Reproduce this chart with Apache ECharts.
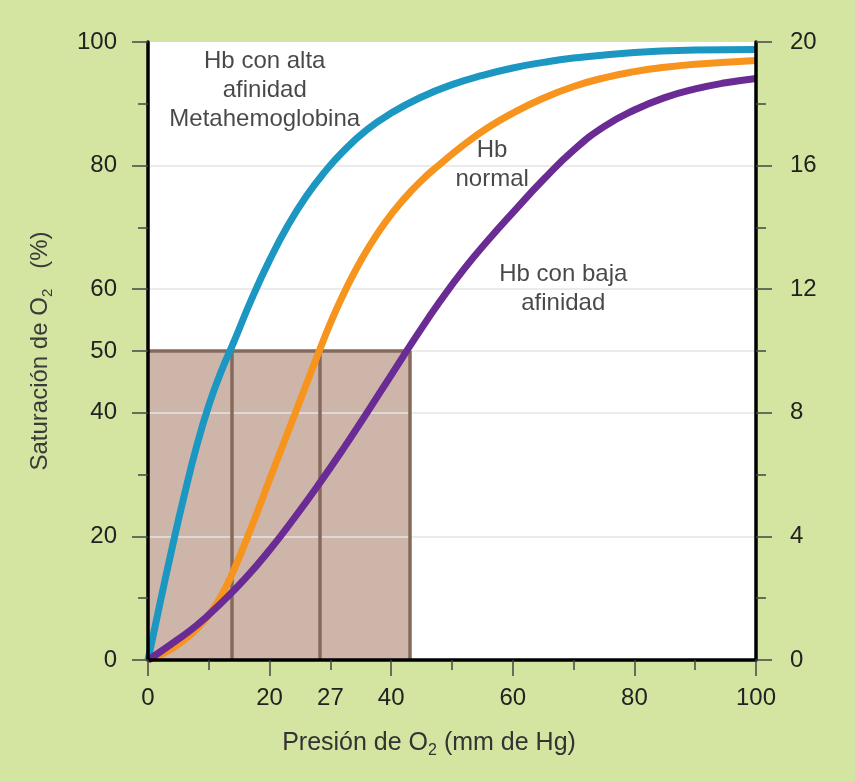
<!DOCTYPE html>
<html>
<head>
<meta charset="utf-8">
<script src="https://cdn.jsdelivr.net/npm/echarts@6/dist/echarts.min.js"></script>
<style>
  html, body { margin: 0; padding: 0; background: #d4e5a1; }
  #chart { width: 855px; height: 781px; }
</style>
</head>
<body>
<div id="chart"></div>
<script>
// curvas de disociación: presión (mm Hg) y saturación (%)
var altaX = [0, 2, 4, 6, 8, 10, 12, 14, 17, 20, 23, 26, 29, 32, 36, 40, 45, 50, 55, 60, 65, 70, 80, 90, 100];
var altaY = [0, 9.3, 18.3, 26.8, 34.6, 41.2, 46.6, 51.2, 58.3, 64.7, 70.3, 75, 78.9, 82.2, 85.8, 88.5, 91.1, 93.1, 94.6, 95.8, 96.7, 97.4, 98.3, 98.7, 98.8];

var normalX = [0, 3, 6, 8, 10, 12, 14, 16, 18, 20, 22, 24, 26, 28, 30, 32, 34, 36, 39, 42, 45, 48, 52, 56, 60, 65, 70, 75, 80, 85, 90, 100];
var normalY = [0, 1.3, 3.3, 5, 7.3, 10.3, 14.3, 19, 24, 29.2, 34.3, 39.4, 44.5, 49.6, 54.5, 58.9, 62.8, 66.3, 70.8, 74.5, 77.6, 80.2, 83.4, 86.2, 88.5, 90.9, 92.8, 94.2, 95.2, 95.9, 96.4, 97];

var bajaX = [0, 4, 8, 12, 16, 20, 24, 28, 32, 36, 40, 44, 48, 52, 56, 60, 65, 70, 75, 80, 85, 90, 95, 100];
var bajaY = [0, 2.7, 5.6, 9.2, 13.2, 17.8, 22.9, 28.3, 34, 40, 46.1, 52.2, 58, 63.3, 68, 72.4, 77.7, 82.5, 86.3, 89, 91, 92.4, 93.4, 94.1];

// P50 de cada curva y caja sombreada
var p50 = [13.7, 28.3];
var cajaX = 43;
var cajaY = 50;

// ticks y etiquetas
var xLabelValues = [0, 20, 30, 40, 60, 80, 100];
var xLabelTexts = ['0', '20', '27', '40', '60', '80', '100'];
var yLabelValues = [0, 20, 40, 50, 60, 80, 100];
var gridValues = [20, 40, 50, 60, 80];

// textos de las curvas: [x, y, texto]
var notas = [
  [19.2, 92.1, 'Hb con alta\nafinidad\nMetahemoglobina'],
  [56.6, 80.1, 'Hb\nnormal'],
  [68.3, 60, 'Hb con baja\nafinidad']
];

function pares(xs, ys) {
  return xs.map(function (x, i) { return [x, ys[i]]; });
}

var FONT = 'Liberation Sans, Arial, sans-serif';
var chart = echarts.init(document.getElementById('chart'));

var tickStyle = { color: '#444', width: 1.5 };

var option = {
  backgroundColor: '#d4e5a1',
  animation: false,
  grid: { left: 148, right: 99, top: 42, bottom: 121 },
  xAxis: {
    type: 'value', min: 0, max: 100, interval: 20, z: 10,
    name: 'Presión de O{s|2} (mm de Hg)',
    nameLocation: 'middle', nameGap: 68,
    nameTextStyle: {
      fontFamily: FONT, fontSize: 25, color: '#333', padding: [0, 46, 0, 0],
      rich: { s: { fontFamily: FONT, fontSize: 16, color: '#333', padding: [15, 0, 0, 0] } }
    },
    axisLine: { onZero: false, lineStyle: { color: '#000', width: 3.5 } },
    axisTick: { length: 16, lineStyle: tickStyle },
    minorTick: { show: true, splitNumber: 2, length: 10, lineStyle: tickStyle },
    axisLabel: {
      customValues: xLabelValues,
      margin: 26, fontFamily: FONT, fontSize: 24, color: '#222',
      formatter: function (v) {
        var i = xLabelValues.indexOf(v);
        return i >= 0 ? xLabelTexts[i] : '';
      }
    },
    splitLine: { show: false }
  },
  yAxis: [{
    type: 'value', min: 0, max: 100, interval: 20, z: 10,
    name: 'Saturación de O{s|2}   (%)',
    nameLocation: 'middle', nameGap: 93,
    nameTextStyle: {
      fontFamily: FONT, fontSize: 24, color: '#3a3a3a',
      rich: { s: { fontFamily: FONT, fontSize: 15, color: '#3a3a3a', padding: [15, 0, 0, 0] } }
    },
    axisLine: { show: true, lineStyle: { color: '#000', width: 3.5 } },
    axisTick: { customValues: yLabelValues, length: 16, lineStyle: tickStyle },
    minorTick: { show: true, splitNumber: 2, length: 10, lineStyle: tickStyle },
    axisLabel: { customValues: yLabelValues, margin: 31, fontFamily: FONT, fontSize: 24, color: '#222' },
    splitLine: { show: false }
  }, {
    type: 'value', min: 0, max: 20, interval: 4, position: 'right', z: 10,
    axisLine: { show: true, lineStyle: { color: '#000', width: 3.5 } },
    axisTick: { length: 16, lineStyle: tickStyle },
    minorTick: { show: true, splitNumber: 2, length: 10, lineStyle: tickStyle },
    axisLabel: { margin: 34, fontFamily: FONT, fontSize: 24, color: '#222' },
    splitLine: { show: false }
  }],
  series: [
    {
      name: 'fondo', type: 'line', data: [], silent: true,
      markArea: {
        silent: true, z: 1,
        data: [
          [{ coord: [0, 0], itemStyle: { color: '#ffffff' } }, { coord: [100, 100] }],
          [{ coord: [0, 0], itemStyle: { color: '#cdb6a9' } }, { coord: [cajaX, cajaY] }]
        ]
      }
    },
    {
      name: 'rejilla', type: 'line', data: [], silent: true,
      markLine: {
        silent: true, z: 2, symbol: 'none', label: { show: false },
        lineStyle: { color: '#e4e4e4', width: 1.5, type: 'solid' },
        data: gridValues.map(function (v) { return { yAxis: v }; })
      }
    },
    {
      name: 'caja', type: 'line', data: [], silent: true,
      markLine: {
        silent: true, z: 3, symbol: 'none', label: { show: false },
        lineStyle: { color: '#856a5c', width: 3.5, type: 'solid' },
        data: [
          [{ coord: [0, cajaY] }, { coord: [cajaX, cajaY] }],
          [{ coord: [cajaX, 0] }, { coord: [cajaX, cajaY] }]
        ].concat(p50.map(function (x) {
          return [{ coord: [x, 0] }, { coord: [x, cajaY] }];
        }))
      }
    },
    {
      name: 'Hb con alta afinidad', type: 'line', z: 4, smooth: 0.5, showSymbol: false,
      data: pares(altaX, altaY),
      lineStyle: { color: '#1c97c2', width: 7 }
    },
    {
      name: 'Hb normal', type: 'line', z: 4, smooth: 0.5, showSymbol: false,
      data: pares(normalX, normalY),
      lineStyle: { color: '#f7941e', width: 7 }
    },
    {
      name: 'Hb con baja afinidad', type: 'line', z: 4, smooth: 0.5, showSymbol: false,
      data: pares(bajaX, bajaY),
      lineStyle: { color: '#6a2b94', width: 7 }
    },
    {
      name: 'notas', type: 'scatter', z: 5, silent: true, symbolSize: 1,
      itemStyle: { color: 'rgba(0,0,0,0)' },
      data: notas.map(function (n) { return { value: [n[0], n[1]], name: n[2] }; }),
      label: {
        show: true, position: 'inside', formatter: '{b}',
        fontFamily: FONT, fontSize: 24, lineHeight: 29, color: '#1a1a1a', align: 'center'
      }
    }
  ]
};
chart.setOption(option);
</script>
</body>
</html>
